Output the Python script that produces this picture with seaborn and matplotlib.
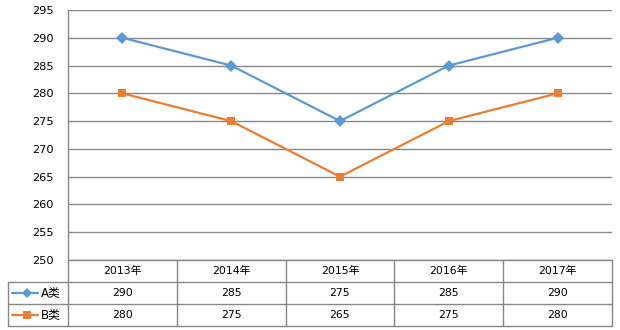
import numpy as np
import pandas as pd
import matplotlib
matplotlib.use("Agg")
import matplotlib.pyplot as plt
from matplotlib.lines import Line2D
import seaborn as sns

years = ["2013年", "2014年", "2015年", "2016年", "2017年"]
series_names = ["A类", "B类"]
a_values = [290, 285, 275, 285, 290]
b_values = [280, 275, 265, 275, 280]
y_ticks = [250, 255, 260, 265, 270, 275, 280, 285, 290, 295]

colors = {"A类": "#5B9BD5", "B类": "#ED7D31"}
markers = {"A类": "D", "B类": "s"}
grid_color = "#878787"

sns.set_theme(style="white")
plt.rcParams["font.family"] = ["DejaVu Sans", "Noto Sans CJK SC"]

W, H = 620, 330
fig = plt.figure(figsize=(W / 100, H / 100), dpi=100)

# plot area in pixel coordinates
x0, x1 = 68, 612
y_top, y_bot = 10, 260
ax = fig.add_axes([x0 / W, 1 - y_bot / H, (x1 - x0) / W, (y_bot - y_top) / H])

df = pd.DataFrame({
    "year": list(range(len(years))) * 2,
    "value": a_values + b_values,
    "series": [series_names[0]] * len(years) + [series_names[1]] * len(years),
})

sns.lineplot(data=df, x="year", y="value", hue="series", style="series",
             palette=colors, markers=markers, dashes=False, ax=ax,
             linewidth=1.6, markersize=6, markeredgewidth=0, legend=False)

ax.set_xlim(-0.5, len(years) - 0.5)
ax.set_ylim(y_ticks[0], y_ticks[-1])
ax.set_yticks(y_ticks)
ax.set_yticklabels([str(t) for t in y_ticks], fontsize=8.2, color="#000000")
ax.tick_params(axis="y", length=0, pad=10)
ax.set_xticks([])
ax.set_xlabel("")
ax.set_ylabel("")
for t in y_ticks:
    ax.axhline(t, color=grid_color, linewidth=1, zorder=0)
for side in ["top", "right", "bottom"]:
    ax.spines[side].set_visible(False)
ax.spines["left"].set_color(grid_color)
ax.spines["left"].set_linewidth(1)
ax.set_facecolor("white")

# data table below the plot, drawn in pixel coordinates of the figure
def fx(px):
    return px / W

def fy(py):
    return 1 - py / H

def hline(xa, xb, y):
    fig.add_artist(Line2D([fx(xa), fx(xb)], [fy(y), fy(y)], color=grid_color,
                          linewidth=1, transform=fig.transFigure))

def vline(x, ya, yb):
    fig.add_artist(Line2D([fx(x), fx(x)], [fy(ya), fy(yb)], color=grid_color,
                          linewidth=1, transform=fig.transFigure))

row_top = 260
row_h = 22
leg_left = 8
col_w = (x1 - x0) / len(years)
rows = [row_top, row_top + row_h, row_top + 2 * row_h, row_top + 3 * row_h]

hline(x0, x1, rows[0])
for r in rows[1:]:
    hline(leg_left, x1, r)
vline(leg_left, rows[1], rows[3])
for i in range(len(years) + 1):
    vline(x0 + i * col_w, rows[0], rows[3])

cell_fs = 7.8
for i, yr in enumerate(years):
    fig.text(fx(x0 + (i + 0.5) * col_w), fy((rows[0] + rows[1]) / 2), yr,
             ha="center", va="center", fontsize=cell_fs, color="#000000")

for r, (name, vals) in enumerate(zip(series_names, [a_values, b_values])):
    yc = (rows[r + 1] + rows[r + 2]) / 2
    fig.add_artist(Line2D([fx(12), fx(38)], [fy(yc), fy(yc)], color=colors[name],
                          linewidth=1.6, transform=fig.transFigure))
    fig.add_artist(Line2D([fx(27)], [fy(yc)], color=colors[name], marker=markers[name],
                          markersize=5 if name == "A类" else 6, markeredgewidth=0,
                          linestyle="none", transform=fig.transFigure))
    fig.text(fx(40.5), fy(yc), name, ha="left", va="center", fontsize=8.5, color="#000000")
    for i, v in enumerate(vals):
        fig.text(fx(x0 + (i + 0.5) * col_w), fy(yc), str(v),
                 ha="center", va="center", fontsize=cell_fs, color="#000000")

fig.savefig("out.png", dpi=100, facecolor="white")
